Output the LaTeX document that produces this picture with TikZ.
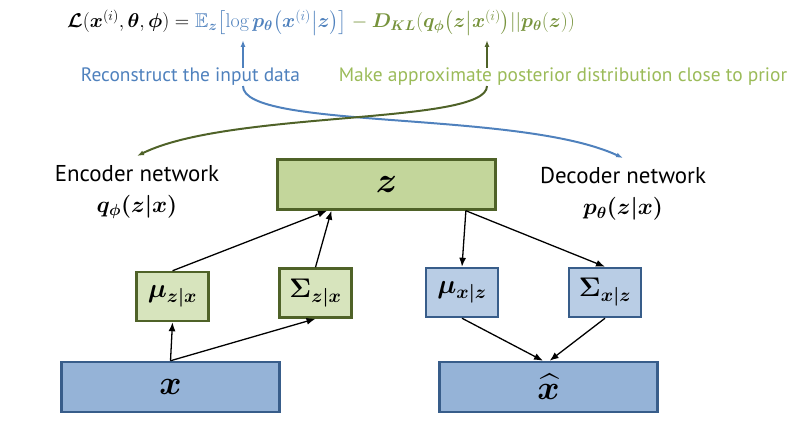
\documentclass[tikz,border=0pt]{standalone}
\usepackage{fix-cm}
\usepackage{amsmath, amssymb, bm}
\usepackage{fontspec}
\setsansfont{PT Sans}
\usetikzlibrary{arrows.meta, positioning, calc}

\definecolor{latGreen}{HTML}{C3D69B}
\definecolor{latGreenLight}{HTML}{D7E4BD}
\definecolor{latGreenDraw}{HTML}{4F6228}
\definecolor{obsBlue}{HTML}{95B3D7}
\definecolor{obsBlueLight}{HTML}{B9CDE5}
\definecolor{obsBlueDraw}{HTML}{385D8A}
\definecolor{recBlue}{HTML}{4F81BD}
\definecolor{klGreen}{HTML}{9BBB59}
\definecolor{klGreenDark}{HTML}{77933C}

\tikzset{
  wide/.style={line width=2.5pt, minimum width=218bp, minimum height=50bp, inner sep=0pt, font=\fontsize{36}{36}\selectfont},
  small/.style={line width=2.5pt, minimum width=72bp, minimum height=49bp, inner sep=0pt, font=\fontsize{27}{27}\selectfont},
  flow/.style={-{Latex[length=9pt,width=7pt]}, line width=1.3pt},
  recarrow/.style={-{Latex[length=7pt,width=5pt]}, line width=2pt, draw=recBlue},
  klarrow/.style={-{Latex[length=7pt,width=5pt]}, line width=2pt, draw=latGreenDraw}
}

\begin{document}
\begin{tikzpicture}[x=1bp, y=-1bp, every node/.style={font=\sffamily}]
\useasboundingbox (0,0) rectangle (805,435);

% ELBO
\node[anchor=base west, inner sep=0pt, font=\fontsize{20}{24}\selectfont] (fL) at (67,28)
  {$\bm{\mathcal{L}}(\bm{x}^{(i)},\bm{\theta},\bm{\phi}) = {}$};
\node[anchor=base west, inner sep=0pt, font=\fontsize{20}{24}\selectfont, text=recBlue] (fE) at (fL.base east)
  {$\mathbb{E}_{\bm{z}}\big[\mathrm{log}\,\bm{p_{\theta}}\big(\bm{x}^{(i)}\big|\bm{z}\big)\big]$};
\node[anchor=base west, inner sep=0pt, font=\fontsize{20}{24}\selectfont, text=klGreenDark] (fD) at (fE.base east)
  {${}-\bm{D_{KL}}(\bm{q_{\phi}}\big(\bm{z}\big|\bm{x}^{(i)}\big)||\bm{p_{\theta}}(\bm{z}))$};

% Erklaerungen
\node[inner sep=0pt, text=recBlue, font=\sffamily\fontsize{19.5}{22}\selectfont] (rec) at (190.5,77) {Reconstruct the input data};
\node[inner sep=0pt, text=klGreen, font=\sffamily\fontsize{19.5}{22}\selectfont] (kl) at (563,77) {Make approximate posterior distribution close to prior};

\coordinate (recTip) at (243,40);
\coordinate (klTip) at (487,40);
\coordinate (encIn) at (137,156);
\coordinate (decIn) at (623,158);

\draw[recarrow] (rec.north -| recTip) -- (recTip);
\draw[klarrow] (kl.north -| klTip) -- (klTip);
\draw[recarrow] (rec.south -| recTip) .. controls (243,130) and (520,110) .. (decIn);
\draw[klarrow] (kl.south -| klTip) .. controls (487,125) and (230,110) .. (encIn);

% Netze
\node[align=center, font=\sffamily\fontsize{23}{31}\selectfont] (enc) at (137,192) {Encoder network\\ $\bm{q_{\phi}(z|x)}$};
\node[align=center, font=\sffamily\fontsize{23}{31}\selectfont] (dec) at (623,194) {Decoder network\\ $\bm{p_{\theta}(z|x)}$};

% Kaesten
\node[wide, draw=latGreenDraw, fill=latGreen] (z) at (386.5,184.5) {$\bm{z}$};
\node[small, draw=latGreenDraw, fill=latGreenLight] (muzx) at (172.5,296.5) {$\bm{\mu_{z|x}}$};
\node[small, draw=latGreenDraw, fill=latGreenLight] (sigzx) at (315.5,293) {$\bm{\Sigma_{z|x}}$};
\node[small, draw=obsBlueDraw, fill=obsBlueLight] (muxz) at (462,292.5) {$\bm{\mu_{x|z}}$};
\node[small, draw=obsBlueDraw, fill=obsBlueLight] (sigxz) at (605,292.5) {$\bm{\Sigma_{x|z}}$};
\node[wide, draw=obsBlueDraw, fill=obsBlue, font=\fontsize{34}{34}\selectfont] (x) at (170.5,387) {$\bm{x}$};
\node[wide, draw=obsBlueDraw, fill=obsBlue, font=\fontsize{34}{34}\selectfont] (xhat) at (548.5,387) {$\bm{\widehat{x}}$};

\coordinate (zinA) at ($(z.south west)!0.23!(z.south east)$);
\coordinate (zinB) at ($(z.south west)!0.25!(z.south east)$);
\coordinate (zout) at ($(z.south west)!0.86!(z.south east)$);
\coordinate (xhinA) at ($(xhat.north west)!0.475!(xhat.north east)$);
\coordinate (xhinB) at ($(xhat.north west)!0.505!(xhat.north east)$);

% Pfeile
\draw[flow] (x.north) -- (muzx.south);
\draw[flow] (x.north) -- (sigzx.south);
\draw[flow] (muzx.north) -- (zinA);
\draw[flow] (sigzx.north) -- (zinB);
\draw[flow] (zout) -- (muxz.north);
\draw[flow] (zout) -- (sigxz.north);
\draw[flow] (muxz.south) -- (xhinA);
\draw[flow] (sigxz.south) -- (xhinB);

\end{tikzpicture}
\end{document}
